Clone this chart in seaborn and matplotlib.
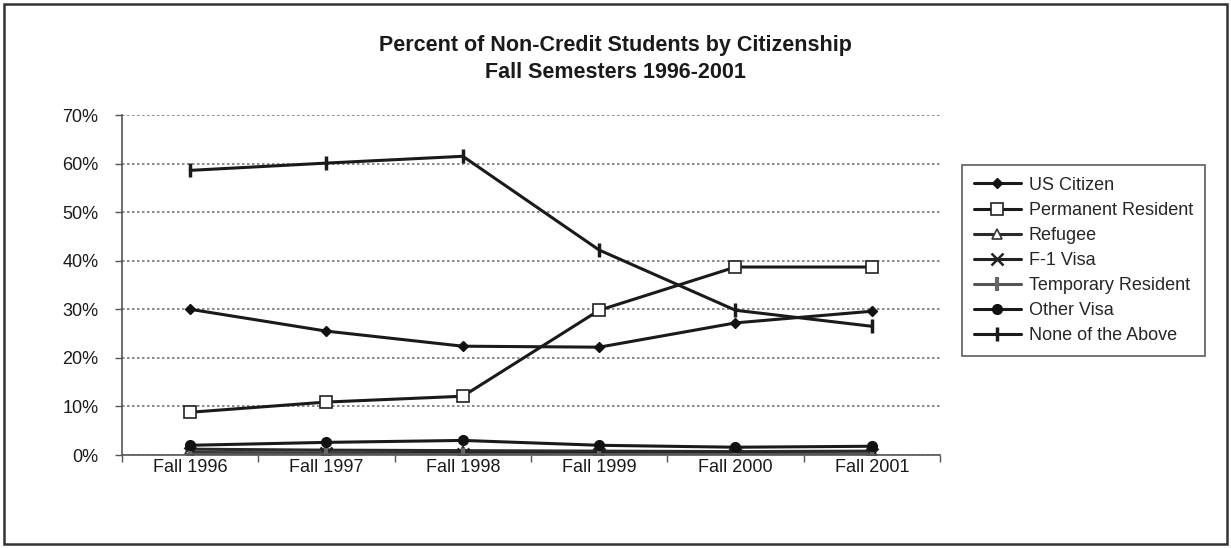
import matplotlib
matplotlib.use("Agg")
import matplotlib.pyplot as plt
from matplotlib.patches import Rectangle
from matplotlib.ticker import FixedLocator, PercentFormatter
import seaborn as sns
import pandas as pd
import numpy as np

categories = ["Fall 1996", "Fall 1997", "Fall 1998", "Fall 1999", "Fall 2000", "Fall 2001"]
us_citizen = [30.0, 25.5, 22.4, 22.2, 27.2, 29.6]
permanent_resident = [8.8, 10.9, 12.1, 29.8, 38.7, 38.7]
refugee = [1.2, 1.0, 0.9, 0.8, 0.7, 0.8]
f1_visa = [0.5, 0.4, 0.3, 0.3, 0.2, 0.2]
temporary_resident = [0.2, 0.2, 0.1, 0.1, 0.1, 0.1]
other_visa = [2.0, 2.6, 3.0, 2.0, 1.6, 1.8]
none_of_above = [58.6, 60.1, 61.5, 42.2, 29.8, 26.5]
series_names = ["US Citizen", "Permanent Resident", "Refugee", "F-1 Visa",
                "Temporary Resident", "Other Visa", "None of the Above"]
series_values = [us_citizen, permanent_resident, refugee, f1_visa,
                 temporary_resident, other_visa, none_of_above]
y_ticks = [0, 10, 20, 30, 40, 50, 60, 70]

sns.set_theme(style="white")
plt.rcParams["font.family"] = ["Liberation Sans", "DejaVu Sans"]

fig = plt.figure(figsize=(12.31, 5.48), dpi=100)
ax = fig.add_axes([122/1231, 1-455/548, (940-122)/1231, (455-115)/548])

styles = {
    "US Citizen": dict(marker="D", markersize=5, markerfacecolor="#111111", markeredgecolor="#111111", markeredgewidth=1, color="#1a1a1a"),
    "Permanent Resident": dict(marker="s", markersize=8, markerfacecolor="white", markeredgecolor="#222222", markeredgewidth=1.2, color="#1a1a1a"),
    "Refugee": dict(marker="^", markersize=7, markerfacecolor="white", markeredgecolor="#333333", markeredgewidth=1.2, color="#2a2a2a"),
    "F-1 Visa": dict(marker="x", markersize=8, markeredgewidth=1.8, markeredgecolor="#222222", color="#222222"),
    "Temporary Resident": dict(marker="|", markersize=10, markeredgewidth=3, markeredgecolor="#666666", color="#555555"),
    "Other Visa": dict(marker="o", markersize=7, markerfacecolor="#111111", markeredgecolor="#111111", markeredgewidth=1, color="#1a1a1a"),
    "None of the Above": dict(marker="|", markersize=10, markeredgewidth=2.5, markeredgecolor="#1a1a1a", color="#1a1a1a"),
}

xs = np.arange(len(categories))
for name, vals in zip(series_names, series_values):
    df = pd.DataFrame({"x": xs, "y": vals})
    st = dict(styles[name])
    color = st.pop("color")
    sns.lineplot(data=df, x="x", y="y", ax=ax, color=color, linewidth=2.2,
                 label=name, **st)

ax.set_xlim(-0.5, len(categories) - 0.5)
ax.set_ylim(0, 70)
ax.set_xticks(xs)
ax.set_xticklabels(categories, fontsize=13, color="#1a1a1a")
ax.xaxis.set_minor_locator(FixedLocator(np.arange(-0.5, len(categories), 1.0)))
ax.tick_params(axis="x", which="major", length=0, pad=3)
ax.tick_params(axis="x", which="minor", length=5, width=1, color="#555555", direction="out", bottom=True)
ax.set_yticks(y_ticks)
ax.yaxis.set_major_formatter(PercentFormatter(decimals=0))
ax.tick_params(axis="y", length=5, width=1, color="#555555", direction="out", left=True, labelsize=13, labelcolor="#1a1a1a", pad=12)
ax.set_xlabel("")
ax.set_ylabel("")
ax.grid(axis="y", linestyle=(0, (1.5, 1.5)), color="#777777", linewidth=1.2)
ax.set_axisbelow(True)
for s in ["top", "right"]:
    ax.spines[s].set_visible(False)
for s in ["left", "bottom"]:
    ax.spines[s].set_color("#555555")
    ax.spines[s].set_linewidth(1.2)

leg = ax.legend(loc="upper left", bbox_to_anchor=(962/1231, 1-165/548),
                bbox_transform=fig.transFigure, borderaxespad=0, fontsize=13, frameon=True,
                fancybox=False, edgecolor="#333333", handlelength=2.6,
                borderpad=0.65, labelspacing=0.45, handletextpad=0.45)
leg.get_frame().set_linewidth(1.2)

fig.text(0.5, 1-45/548, "Percent of Non-Credit Students by Citizenship",
         ha="center", va="center", fontsize=15.5, fontweight="bold", color="#1a1a1a")
fig.text(0.5, 1-72/548, "Fall Semesters 1996-2001",
         ha="center", va="center", fontsize=15.5, fontweight="bold", color="#1a1a1a")

fig.patches.append(Rectangle((4/1231, 4/548), 1-8/1231, 1-8/548, transform=fig.transFigure,
                             fill=False, edgecolor="#333333", linewidth=1.8))

fig.savefig("out.png", dpi=100)
